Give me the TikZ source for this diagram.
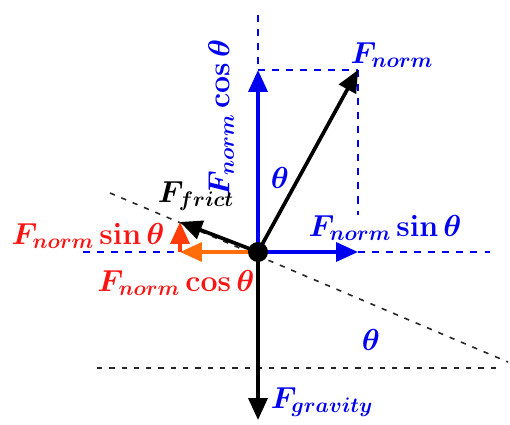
\documentclass[tikz,border=0pt]{standalone}
\usepackage{amsmath,bm}
\usetikzlibrary{arrows.meta}
\definecolor{fblue}{RGB}{0,0,240}
\definecolor{fred}{RGB}{250,20,20}
\definecolor{forange}{RGB}{255,110,10}
\definecolor{fredor}{RGB}{255,60,10}
\begin{document}
\begin{tikzpicture}[x=0.02cm,y=-0.02cm,
		force/.style={line width=2.1pt,-{Triangle[length=4.4mm,width=3.8mm]}},
		guide/.style={fblue,line width=1pt,dash pattern=on 4pt off 4pt},
		slope/.style={black!85,line width=0.9pt,dash pattern=on 3pt off 4pt},
		lab/.style={font=\fontsize{17}{19}\selectfont,inner sep=1pt},
		]
		\useasboundingbox (0,0) rectangle (510,425);
		
		% Points
		\coordinate (O) at (258,252);
		\coordinate (ntop) at (258,70);
		\coordinate (vtop) at (258,15);
		\coordinate (nend) at (358,70);
		\coordinate (nside) at (358,215);
		\coordinate (nright) at (358,252);
		\coordinate (hleft) at (83,252);
		\coordinate (hright) at (490,252);
		\coordinate (fend) at (180,222);
		\coordinate (fbase) at (180,252);
		\coordinate (gend) at (258,420);
		\coordinate (sl) at (110,193);
		\coordinate (sr) at (508,362);
		\coordinate (gl) at (97,368);
		\coordinate (gr) at (500,368);
		
		% Guide lines
		\draw[guide] (vtop)--(ntop);
		\draw[guide] (ntop)--(nend);
		\draw[guide] (nend)--(nside);
		\draw[guide] (hleft)--(fbase);
		\draw[guide] (nright)--(hright);
		\draw[slope] (sl)--(sr);
		\draw[slope] (gl)--(gr);
		
		% Forces
		\draw[force,fblue] (O)--(ntop);
		\draw[force,fblue] (O)--(nright);
		\draw[force,black] (O)--(nend);
		\draw[force,black] (O)--(fend);
		\draw[force,forange] (O)--(fbase);
		\draw[force,fredor] (fbase)--(fend);
		\draw[force,black] (O)--(gend);
		\fill[black] (O) circle (10);
		
		% Labels
		\node[lab,fblue,rotate=90] (lcos) at (221,118) {$\bm{F_{norm}}\,\mathbf{cos}\,\bm{\theta}$};
		\node[lab,fblue] (lnorm) at (392,55) {$\bm{F_{norm}}$};
		\node[lab,fblue] (lth1) at (280,178) {$\bm{\theta}$};
		\node[lab,fblue] (lsin) at (385,228) {$\bm{F_{norm}}\,\mathbf{sin}\,\bm{\theta}$};
		\node[lab,fred] (rsin) at (88,236) {$\bm{F_{norm}}\,\mathbf{sin}\,\bm{\theta}$};
		\node[lab,fred] (rcos) at (176,283) {$\bm{F_{norm}}\,\mathbf{cos}\,\bm{\theta}$};
		\node[lab,black] (lfr) at (196,196) {$\bm{F_{frict}}$};
		\node[lab,fblue] (lth2) at (371,340) {$\bm{\theta}$};
		\node[lab,fblue] (lgr) at (322,402) {$\bm{F_{gravity}}$};
		
	\end{tikzpicture}
\end{document}
